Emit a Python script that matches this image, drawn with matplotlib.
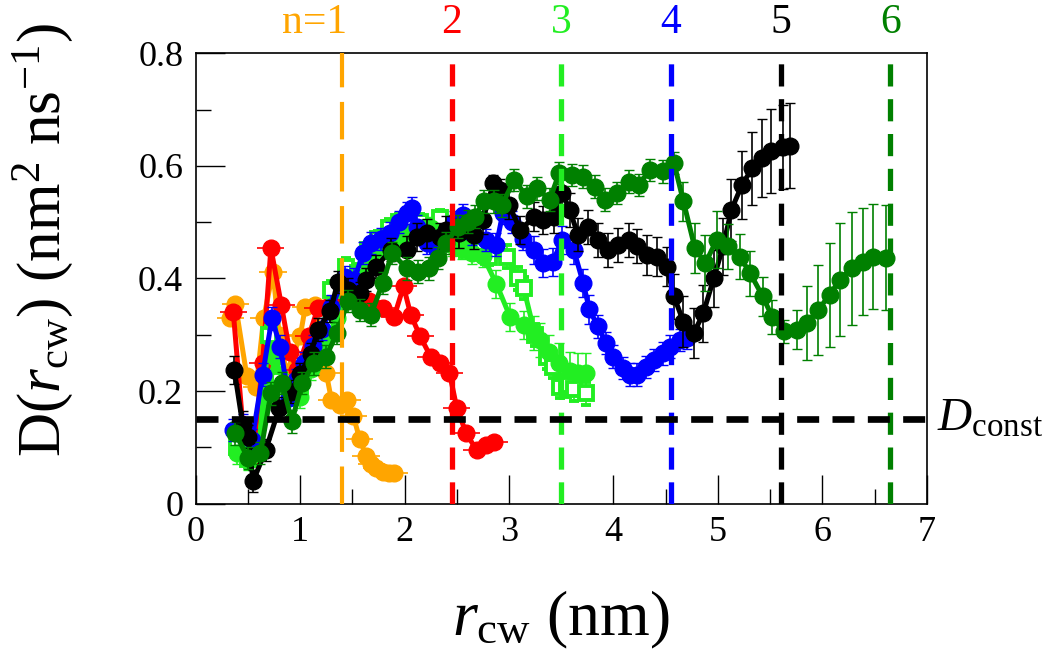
import matplotlib
matplotlib.use("Agg")
import matplotlib.pyplot as plt
from matplotlib.ticker import MultipleLocator

plt.rcParams["font.family"] = "Liberation Serif"
plt.rcParams["mathtext.fontset"] = "custom"
plt.rcParams["mathtext.rm"] = "Liberation Serif"
plt.rcParams["mathtext.it"] = "Liberation Serif:italic"

# ---------------------------------------------------------------------------
# data (r_cw in nm, D in nm^2/ns)
# ---------------------------------------------------------------------------
# n=1 (orange), horizontal error bars
x_n1 = [0.33, 0.38, 0.49, 0.58, 0.65, 0.74, 0.80, 0.87, 1.00, 1.05, 1.14, 1.20,
        1.25, 1.30, 1.38, 1.45, 1.51, 1.57, 1.63, 1.68, 1.73, 1.79, 1.85, 1.90]
y_n1 = [0.33, 0.355, 0.226, 0.208, 0.329, 0.412, 0.30, 0.232, 0.297, 0.35, 0.353, 0.30,
        0.232, 0.184, 0.175, 0.184, 0.155, 0.115, 0.085, 0.07, 0.063, 0.057, 0.054, 0.054]

# n=2 (red), horizontal error bars
x_n2 = [0.36, 0.45, 0.55, 0.64, 0.72, 0.82, 0.90, 0.97, 1.08, 1.17, 1.26, 1.36, 1.46, 1.56,
        1.66, 1.79, 1.90, 1.99, 2.06, 2.15, 2.25, 2.34, 2.43, 2.50, 2.59, 2.69, 2.78, 2.86]
y_n2 = [0.34, 0.14, 0.085, 0.25, 0.454, 0.353, 0.27, 0.238, 0.297, 0.347, 0.35, 0.36, 0.37, 0.37,
        0.36, 0.347, 0.332, 0.386, 0.335, 0.297, 0.261, 0.249, 0.232, 0.17, 0.125, 0.095, 0.104, 0.11]

# n=3 (light green), two runs: circles and squares
x_n3a = [0.40, 0.50, 0.60, 0.70, 0.76, 0.85, 1.00, 1.10, 1.25, 1.35, 1.45, 1.55, 1.65, 1.75, 1.85, 1.95, 2.05,
         2.15, 2.25, 2.35, 2.45, 2.55, 2.65, 2.75, 2.88, 3.01, 3.14, 3.24, 3.30, 3.38, 3.48, 3.58, 3.66, 3.74]
y_n3a = [0.09, 0.08, 0.10, 0.20, 0.261, 0.21, 0.19, 0.24, 0.29, 0.33, 0.38, 0.40, 0.43, 0.45, 0.46, 0.47, 0.48,
         0.49, 0.49, 0.48, 0.46, 0.455, 0.445, 0.44, 0.39, 0.332, 0.318, 0.303, 0.291, 0.27, 0.25, 0.235, 0.232, 0.232]
e_n3a = [0.02, 0.02, 0.02, 0.02, 0.02, 0.02, 0.02, 0.02, 0.02, 0.02, 0.02, 0.02, 0.02, 0.02, 0.02, 0.02, 0.02,
         0.02, 0.02, 0.02, 0.02, 0.02, 0.02, 0.02, 0.025, 0.025, 0.025, 0.03, 0.03, 0.03, 0.035, 0.035, 0.035, 0.035]

x_n3b = [0.40, 0.50, 0.60, 0.70, 0.80, 0.90, 1.00, 1.10, 1.20, 1.30, 1.44, 1.55, 1.65, 1.75, 1.85, 1.95, 2.05,
         2.15, 2.25, 2.34, 2.45, 2.56, 2.69, 2.81, 2.98, 3.09, 3.14, 3.25, 3.36, 3.42, 3.49, 3.56, 3.62, 3.74]
y_n3b = [0.10, 0.08, 0.09, 0.30, 0.22, 0.19, 0.20, 0.25, 0.30, 0.38, 0.421, 0.41, 0.45, 0.47, 0.49, 0.50, 0.50,
         0.50, 0.49, 0.507, 0.48, 0.454, 0.451, 0.439, 0.439, 0.40, 0.383, 0.30, 0.26, 0.243, 0.208, 0.21, 0.203, 0.196]
e_n3b = [0.015, 0.015, 0.015, 0.015, 0.015, 0.015, 0.015, 0.015, 0.015, 0.015, 0.015, 0.015, 0.015, 0.015,
         0.015, 0.015, 0.015, 0.015, 0.015, 0.015, 0.015, 0.015, 0.015, 0.015, 0.02, 0.02, 0.02, 0.02, 0.02,
         0.02, 0.02, 0.02, 0.02, 0.02]

# n=4 (blue)
x_n4 = [0.36, 0.45, 0.54, 0.64, 0.73, 0.81, 0.89, 0.96, 1.04, 1.12, 1.21, 1.30, 1.43, 1.52, 1.60, 1.68, 1.77,
        1.86, 1.95, 2.02, 2.07, 2.12, 2.21, 2.30, 2.38, 2.47, 2.56, 2.65, 2.78, 2.88, 2.94, 3.03, 3.13, 3.24,
        3.33, 3.42, 3.51, 3.62, 3.71, 3.77, 3.85, 3.93, 4.00, 4.09, 4.16, 4.23, 4.31, 4.39, 4.47, 4.54, 4.64, 4.70]
y_n4 = [0.131, 0.14, 0.113, 0.229, 0.329, 0.279, 0.187, 0.22, 0.25, 0.28, 0.31, 0.35, 0.403, 0.398, 0.445,
        0.463, 0.47, 0.48, 0.50, 0.516, 0.525, 0.492, 0.463, 0.455, 0.47, 0.50, 0.513, 0.48, 0.468, 0.46,
        0.516, 0.50, 0.47, 0.45, 0.427, 0.43, 0.469, 0.451, 0.392, 0.345, 0.315, 0.285, 0.261, 0.241, 0.229,
        0.229, 0.243, 0.255, 0.267, 0.279, 0.291, 0.294]
e_n4 = [0.02, 0.02, 0.02, 0.02, 0.02, 0.02, 0.02, 0.02, 0.02, 0.02, 0.02, 0.02, 0.02, 0.02, 0.02, 0.02,
        0.02, 0.02, 0.02, 0.02, 0.02, 0.02, 0.02, 0.02, 0.02, 0.02, 0.02, 0.02, 0.02, 0.02, 0.02, 0.02,
        0.02, 0.025, 0.025, 0.025, 0.025, 0.025, 0.025, 0.025, 0.02, 0.02, 0.02, 0.02, 0.02, 0.02, 0.02,
        0.02, 0.02, 0.02, 0.02, 0.02]

# n=5 (black)
x_n5 = [0.37, 0.45, 0.50, 0.55, 0.67, 0.80, 0.91, 1.00, 1.10, 1.17, 1.29, 1.36, 1.46, 1.57, 1.63, 1.73,
        1.87, 2.02, 2.12, 2.21, 2.34, 2.40, 2.52, 2.66, 2.75, 2.85, 2.91, 3.00, 3.11, 3.24, 3.33, 3.43,
        3.51, 3.58, 3.66, 3.76, 3.85, 3.95, 4.04, 4.15, 4.23, 4.32, 4.42, 4.51, 4.58, 4.67, 4.77, 4.86,
        4.96, 5.05, 5.13, 5.23, 5.33, 5.42, 5.51, 5.62, 5.69]
y_n5 = [0.237, 0.14, 0.119, 0.040, 0.095, 0.17, 0.199, 0.23, 0.265, 0.309, 0.342, 0.394, 0.38, 0.374,
        0.398, 0.421, 0.451, 0.451, 0.474, 0.48, 0.474, 0.486, 0.48, 0.478, 0.504, 0.569, 0.557, 0.53,
        0.486, 0.51, 0.504, 0.51, 0.552, 0.522, 0.478, 0.492, 0.469, 0.451, 0.46, 0.469, 0.457, 0.442,
        0.439, 0.421, 0.368, 0.323, 0.303, 0.338, 0.40, 0.457, 0.522, 0.566, 0.596, 0.614, 0.626, 0.634, 0.636]
e_n5 = [0.025, 0.025, 0.02, 0.02, 0.02, 0.02, 0.02, 0.02, 0.02, 0.02, 0.02, 0.02, 0.02, 0.02,
        0.02, 0.02, 0.02, 0.025, 0.025, 0.025, 0.025, 0.025, 0.025, 0.025, 0.025, 0.015, 0.02, 0.025,
        0.025, 0.025, 0.025, 0.03, 0.03, 0.03, 0.03, 0.03, 0.03, 0.03, 0.03, 0.03, 0.03, 0.035,
        0.035, 0.035, 0.04, 0.045, 0.045, 0.05, 0.05, 0.05, 0.055, 0.06, 0.065, 0.07, 0.075, 0.075, 0.075]

# n=6 (dark green)
x_n6 = [0.38, 0.50, 0.62, 0.72, 0.83, 0.92, 1.02, 1.13, 1.25, 1.35, 1.46, 1.57, 1.68, 1.79, 1.88, 2.02,
        2.13, 2.23, 2.32, 2.40, 2.51, 2.61, 2.67, 2.76, 2.86, 2.93, 3.05, 3.17, 3.27, 3.39, 3.48, 3.60,
        3.71, 3.82, 3.92, 4.03, 4.15, 4.24, 4.35, 4.47, 4.58, 4.67, 4.78, 4.88, 4.99, 5.10, 5.21, 5.31,
        5.43, 5.52, 5.63, 5.76, 5.85, 5.96, 6.07, 6.17, 6.28, 6.39, 6.49, 6.61]
y_n6 = [0.125, 0.081, 0.09, 0.196, 0.214, 0.146, 0.214, 0.249, 0.261, 0.303, 0.36, 0.344, 0.336, 0.392,
        0.445, 0.418, 0.412, 0.418, 0.436, 0.463, 0.492, 0.501, 0.51, 0.537, 0.537, 0.53, 0.575, 0.546,
        0.56, 0.54, 0.587, 0.584, 0.581, 0.563, 0.54, 0.552, 0.572, 0.566, 0.593, 0.59, 0.605, 0.537,
        0.454, 0.427, 0.469, 0.457, 0.439, 0.409, 0.368, 0.332, 0.306, 0.309, 0.321, 0.344, 0.371, 0.398,
        0.418, 0.43, 0.439, 0.437]
e_n6 = [0.02, 0.02, 0.02, 0.02, 0.02, 0.02, 0.02, 0.02, 0.02, 0.02, 0.02, 0.02, 0.02, 0.02,
        0.02, 0.02, 0.02, 0.02, 0.02, 0.02, 0.02, 0.02, 0.02, 0.02, 0.02, 0.02, 0.02, 0.02,
        0.02, 0.02, 0.02, 0.02, 0.02, 0.02, 0.02, 0.02, 0.02, 0.02, 0.02, 0.02, 0.02, 0.035,
        0.045, 0.05, 0.05, 0.04, 0.04, 0.04, 0.035, 0.03, 0.02, 0.035, 0.065, 0.08, 0.092, 0.1,
        0.1, 0.095, 0.093, 0.093]

# vertical shell positions and the constant-D reference
shell_x = [1.40, 2.45, 3.50, 4.55, 5.60, 6.65]
shell_labels = ["n=1", "2", "3", "4", "5", "6"]
shell_colors = ["#FFA500", "#FF0000", "#22EE22", "#0000FF", "#000000", "#008000"]
D_const = 0.15

fig, ax = plt.subplots(figsize=(10.5, 6.56), dpi=100)
fig.subplots_adjust(left=0.1864, right=0.8826, bottom=0.2322, top=0.9188)

mk = dict(marker="o", ms=12, lw=3.6)

ax.errorbar(x_n1, y_n1, xerr=0.13, color=shell_colors[0], elinewidth=1.2, capsize=0, zorder=2, **mk)
ax.errorbar(x_n2, y_n2, xerr=0.13, color=shell_colors[1], elinewidth=1.2, capsize=0, zorder=3, **mk)
ax.errorbar(x_n3b, y_n3b, yerr=e_n3b, color=shell_colors[2], marker="s", ms=10.5, mfc="white",
            mew=2.8, lw=3.6, elinewidth=1.2, capsize=3.5, zorder=4)
ax.errorbar(x_n3a, y_n3a, yerr=e_n3a, color=shell_colors[2], elinewidth=1.2, capsize=3.5, zorder=4, **mk)
ax.errorbar(x_n4, y_n4, yerr=e_n4, color=shell_colors[3], elinewidth=1.2, capsize=3.5, zorder=5, **mk)
ax.errorbar(x_n5, y_n5, yerr=e_n5, color=shell_colors[4], elinewidth=1.2, capsize=3.5, zorder=6, **mk)
ax.errorbar(x_n6, y_n6, yerr=e_n6, color=shell_colors[5], elinewidth=1.2, capsize=3.5, zorder=7, **mk)

# dashed guides drawn over the data
for i, (xs, lab, c) in enumerate(zip(shell_x, shell_labels, shell_colors)):
    if i == 0:
        ax.axvline(xs, color=c, lw=3.0, ls=(0, (9, 3.5)), zorder=10)
        ax.text(xs - 0.26, 1.068, lab, color=c, fontsize=30, ha="center", va="center",
                transform=ax.get_xaxis_transform())
    else:
        ax.axvline(xs, color=c, lw=3.8, ls=(0, (4.2, 2.4)), zorder=10)
        ax.text(xs, 1.068, lab, color=c, fontsize=30, ha="center", va="center",
                transform=ax.get_xaxis_transform())
ax.axhline(D_const, color="black", lw=4.8, ls=(0, (3.3, 2.0)), zorder=10)
ax.text(7.1, D_const, r"$D_{\rm const}$", fontsize=34, ha="left", va="center", clip_on=False)

ax.set_xlim(0, 7)
ax.set_ylim(0, 0.8)
ax.xaxis.set_major_locator(MultipleLocator(1))
ax.xaxis.set_minor_locator(MultipleLocator(0.5))
ax.yaxis.set_minor_locator(MultipleLocator(0.1))
ax.set_yticks([0, 0.2, 0.4, 0.6, 0.8], ["0", "0.2", "0.4", "0.6", "0.8"])
ax.tick_params(which="both", direction="in", top=False, right=False, width=1.0, labelsize=26)
ax.tick_params(which="major", length=21, pad=9)
ax.tick_params(which="minor", length=11)
for s in ax.spines.values():
    s.set_linewidth(1.2)

ax.set_xlabel(r"$r_{\rm cw}$ (nm)", fontsize=46)
ax.set_ylabel(r"D($r_{\rm cw}$) (nm$^{2}$ ns$^{-1}$)", fontsize=44)
ax.xaxis.set_label_coords(0.5, -0.19)
ax.yaxis.set_label_coords(-0.165, 0.585)

plt.savefig("out.png", dpi=100)
plt.close(fig)
